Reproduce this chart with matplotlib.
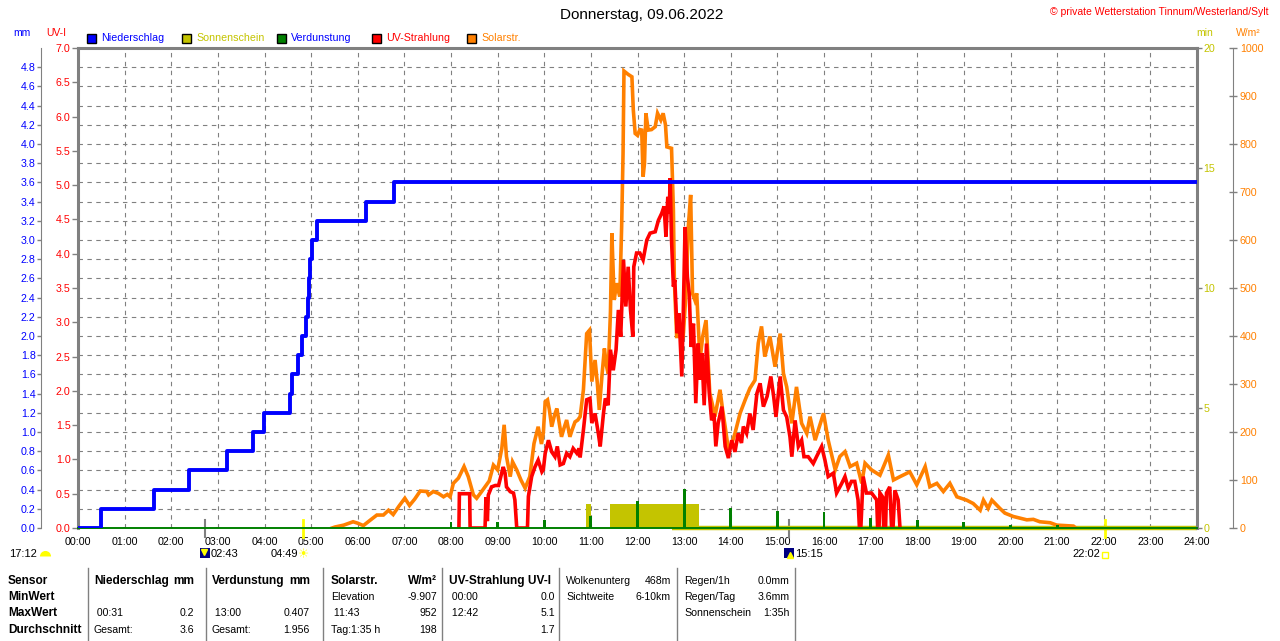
import numpy as np
import matplotlib
matplotlib.use('Agg')
import matplotlib.pyplot as plt
from matplotlib.patches import Rectangle
from matplotlib.lines import Line2D
from matplotlib.transforms import blended_transform_factory

plt.rcParams['font.family'] = ['Liberation Sans', 'DejaVu Sans']

# ---- data (times in decimal hours) ----
# Niederschlag, cumulative mm
rain_t = [0, 0.50, 1.62, 2.37, 3.19, 3.75, 3.98, 4.55, 4.60, 4.71, 4.80, 4.88, 4.94,
          4.96, 4.98, 5.01, 5.12, 6.18, 6.78, 24]
rain_mm = [0, 0.2, 0.4, 0.6, 0.8, 1.0, 1.2, 1.4, 1.6, 1.8, 2.0, 2.2, 2.4,
           2.6, 2.8, 3.0, 3.2, 3.4, 3.6, 3.6]

# Verdunstung, mm per hour
evap_h = [1, 2, 3, 5, 7, 8, 9, 10, 11, 12, 13, 14, 15, 16, 17, 18, 19, 20, 21, 23]
evap_mm = [0.01, 0.01, 0.01, 0.01, 0.01, 0.06, 0.06, 0.08, 0.13, 0.285, 0.407, 0.205,
           0.18, 0.163, 0.108, 0.083, 0.066, 0.028, 0.028, 0.01]

# Sonnenschein, min
sun_t = [0, 10.89, 11.00, 11.40, 13.32, 24]
sun_min = [0, 1.0, 0, 1.0, 0, 0]
sun_zero_start = 12.75

# Solarstrahlung, W/m2
sol_t = [5.45, 5.51, 5.70, 5.90, 6.00, 6.12, 6.25, 6.41, 6.55, 6.66, 6.76, 6.88, 7.01, 7.11,
         7.22, 7.34, 7.48, 7.52, 7.62, 7.73, 7.84, 7.92, 7.98, 8.05, 8.16, 8.28, 8.37, 8.48,
         8.55, 8.65, 8.73, 8.82, 8.91, 9.00, 9.09, 9.14, 9.19, 9.27, 9.32, 9.41, 9.50, 9.59,
         9.69, 9.78, 9.87, 9.94, 9.98, 10.02, 10.07, 10.11, 10.16, 10.22, 10.27, 10.32,
         10.37, 10.43, 10.48, 10.55, 10.60, 10.66, 10.72, 10.77, 10.84, 10.91, 10.97, 11.02,
         11.09, 11.14, 11.18, 11.24, 11.29, 11.33, 11.37, 11.42, 11.45, 11.50, 11.55, 11.62,
         11.66, 11.69, 11.71, 11.80, 11.88, 11.91, 11.95, 12.00, 12.05, 12.09, 12.12, 12.15,
         12.18, 12.23, 12.30, 12.38, 12.43, 12.50, 12.55, 12.60, 12.63, 12.73, 12.77, 12.79,
         12.84, 12.98, 13.04, 13.09, 13.14, 13.18, 13.23, 13.27, 13.34, 13.40, 13.47, 13.55,
         13.60, 13.66, 13.77, 13.82, 13.88, 13.95, 14.02, 14.09, 14.20, 14.31, 14.41, 14.52,
         14.59, 14.66, 14.73, 14.84, 14.95, 15.06, 15.13, 15.20, 15.31, 15.41, 15.52, 15.63,
         15.70, 15.81, 15.99, 16.09, 16.24, 16.34, 16.45, 16.56, 16.70, 16.81, 16.88, 17.02,
         17.20, 17.38, 17.49, 17.63, 17.84, 17.99, 18.17, 18.27, 18.42, 18.56, 18.70, 18.85,
         19.06, 19.20, 19.35, 19.42, 19.52, 19.60, 19.77, 19.88, 20.06, 20.35, 20.49, 20.63,
         20.85, 20.99, 21.35, 21.40]
sol_w = [0, 2, 6, 13, 10, 5, 15, 27, 27, 37, 28, 45, 62, 47,
         60, 77, 76, 69, 76, 72, 65, 70, 65, 93, 104, 128, 107, 69,
         62, 75, 86, 98, 131, 121, 166, 215, 149, 107, 138, 121, 100, 83,
         107, 176, 211, 175, 198, 263, 267, 246, 211, 235, 249, 220,
         190, 210, 225, 190, 205, 221, 225, 232, 288, 405, 412, 305,
         350, 300, 246, 320, 374, 340, 322, 450, 614, 475, 510, 482,
         628, 780, 952, 945, 940, 871, 822, 818, 830, 829, 732, 760,
         864, 829, 830, 836, 864, 850, 864, 840, 794, 791, 662, 517,
         399, 399, 489, 628, 694, 489, 475, 489, 350, 400, 433, 281,
         260, 232, 288, 250, 211, 163, 175, 197, 239, 267, 291, 308,
         385, 420, 357, 399, 336, 405, 322, 294, 218, 294, 218, 197,
         232, 183, 239, 183, 121, 149, 159, 128, 135, 93, 135, 121,
         110, 152, 100, 107, 117, 90, 128, 86, 93, 76, 93, 65,
         58, 51, 37, 58, 41, 58, 41, 31, 24, 17, 18, 13,
         11, 6, 4, 0]

# UV-Strahlung, UV-I
uv_t = [8.17, 8.18, 8.40, 8.41, 8.73, 8.75, 8.78, 8.80, 8.87, 8.95, 9.02, 9.05, 9.12, 9.16,
        9.19, 9.27, 9.34, 9.37, 9.41, 9.64, 9.66, 9.73, 9.80, 9.87, 9.95, 9.98, 10.02, 10.09,
        10.16, 10.23, 10.28, 10.34, 10.41, 10.48, 10.55, 10.62, 10.70, 10.75, 10.77, 10.84,
        10.91, 10.98, 11.02, 11.09, 11.16, 11.20, 11.27, 11.31, 11.37, 11.42, 11.48, 11.54,
        11.59, 11.64, 11.70, 11.75, 11.80, 11.85, 11.90, 11.92, 11.98, 12.05, 12.12, 12.20,
        12.27, 12.38, 12.45, 12.52, 12.57, 12.61, 12.65, 12.68, 12.70, 12.73, 12.77, 12.80,
        12.85, 12.89, 12.95, 12.98, 13.02, 13.07, 13.11, 13.15, 13.20, 13.25, 13.30, 13.34,
        13.38, 13.43, 13.48, 13.54, 13.59, 13.64, 13.68, 13.73, 13.81, 13.88, 13.95, 14.02,
        14.09, 14.16, 14.23, 14.27, 14.34, 14.41, 14.48, 14.56, 14.63, 14.70, 14.78, 14.86,
        14.92, 14.97, 15.06, 15.13, 15.20, 15.27, 15.31, 15.38, 15.45, 15.52, 15.57, 15.66,
        15.77, 15.84, 15.95, 16.02, 16.09, 16.20, 16.27, 16.38, 16.45, 16.52, 16.59, 16.66,
        16.73, 16.76, 16.79, 16.84, 16.91, 17.02, 17.13, 17.15, 17.18, 17.20, 17.26, 17.28,
        17.32, 17.34, 17.41, 17.45, 17.48, 17.52, 17.59, 17.63]
uv_i = [0, 0.50, 0.50, 0, 0, 0.45, 0.10, 0.48, 0.60, 0.62, 0.62, 0.70, 0.89, 0.80,
        0.60, 0.53, 0.51, 0.41, 0, 0, 0.46, 0.75, 0.89, 0.99, 0.82, 0.85, 1.09, 1.28,
        1.11, 1.04, 1.19, 0.92, 0.94, 1.09, 1.04, 1.16, 1.09, 1.16, 1.03, 1.43,
        1.87, 1.89, 1.53, 1.67, 1.38, 1.19, 1.67, 1.89, 1.79, 2.60, 2.30, 2.60,
        3.18, 2.79, 3.91, 3.23, 3.81, 3.18, 2.79, 3.81, 4.01, 4.01, 3.91, 4.20,
        4.30, 4.32, 4.49, 4.59, 4.69, 4.25, 4.83, 4.59, 5.10, 4.20, 3.52, 3.62,
        2.84, 3.13, 2.21, 3.08, 4.39, 3.66, 3.42, 2.64, 2.98, 1.82, 2.69, 2.16,
        2.55, 1.79, 2.69, 1.96, 1.57, 1.67, 1.19, 1.53, 1.77, 1.19, 1.02, 1.28,
        1.11, 1.38, 1.24, 1.48, 1.38, 1.67, 1.43, 1.96, 2.11, 1.77, 1.92, 2.21,
        1.92, 1.62, 2.21, 1.72, 1.62, 1.33, 1.04, 1.57, 1.19, 1.28, 1.04, 1.04,
        0.94, 1.04, 1.19, 0.99, 0.75, 0.80, 0.51, 0.65, 0.75, 0.58, 0.68, 0.68,
        0.41, 0, 0, 0.75, 0.51, 0.51, 0.41, 0, 0, 0.51, 0.45, 0,
        0, 0.51, 0.60, 0, 0, 0.55, 0.41, 0]

hour_labels = ['%02d:00' % h for h in range(25)]

# astronomical events
moon_rise, sun_rise, moon_set, sun_set, day_len = 2.717, 4.817, 15.25, 22.033, '17:12'

# statistics table
table_cols = [
    # (x_left, x_right, [(left text, right text, bold), ...] per row)
    (8, None, [('Sensor', '', True), ('MinWert', '', True), ('MaxWert', '', True),
               ('Durchschnitt', '', True)]),
    (94, 194, [('Niederschlag', 'mm', True), ('', '', False), (' 00:31', '0.2', False),
               ('Gesamt:', '3.6', False)]),
    (212, 310, [('Verdunstung', 'mm', True), ('', '', False), (' 13:00', '0.407', False),
                ('Gesamt:', '1.956', False)]),
    (331, 437, [('Solarstr.', 'W/m²', True), ('Elevation', '-9.907', False),
                (' 11:43', '952', False), ('Tag:1:35 h', '198', False)]),
    (449, 555, [('UV-Strahlung UV-I', '', True), (' 00:00', '0.0', False),
                (' 12:42', '5.1', False), ('', '1.7', False)]),
    (566, 671, [('Wolkenunterg', '468m', False), ('Sichtweite', '6-10km', False),
                ('', '', False), ('', '', False)]),
    (684, 790, [('Regen/1h', '0.0mm', False), ('Regen/Tag', '3.6mm', False),
                ('Sonnenschein', '1:35h', False), ('', '', False)]),
]
table_sep_x = [88, 206, 323, 442, 559, 677, 795]
table_rows_y = [581, 597, 613, 630]

BLUE, RED, ORANGE, GREEN, OLIVE, GRAY = '#0000ff', '#ff0000', '#ff8000', '#008000', '#c4c400', '#808080'

W, H = 1280, 641
PT = 72 / 100  # points per pixel at dpi 100
fig = plt.figure(figsize=(W / 100, H / 100), dpi=100)
fig.patch.set_facecolor('white')


def fx(px):
    return px / W


def fy(py):
    return 1 - py / H


ax = fig.add_axes([fx(78), fy(528), fx(1197) - fx(78), fy(48) - fy(528)])
ax_min = ax.twinx()
ax_w = ax.twinx()
ax_uv = ax.twinx()
ax_top = ax.twinx()

for a in (ax, ax_min, ax_w, ax_uv, ax_top):
    for s in a.spines.values():
        s.set_visible(False)

# mm axis (with grid)
ax.set_xlim(0, 24)
ax.set_ylim(0, 5)
ax.set_xticks(range(25))
ax.set_xticklabels(hour_labels)
ax.tick_params(axis='x', length=0, pad=6.5, labelsize=7.7, labelcolor='black')
mm_ticks = np.round(np.arange(0, 4.81, 0.2), 1)
ax.set_yticks(mm_ticks)
ax.set_yticklabels(['%.1f' % v for v in mm_ticks])
ax.tick_params(axis='y', colors=GRAY, labelcolor=BLUE, length=4 * PT, width=1,
               labelsize=7.7, pad=1)
ax.spines['left'].set_visible(True)
ax.spines['left'].set_position(('outward', 37 * PT))
ax.spines['left'].set_color(GRAY)
ax.spines['top'].set_visible(True)
ax.spines['top'].set_color(GRAY)
ax.spines['top'].set_linewidth(2.2)
ax.grid(True, ls=(0, (4, 4)), color=GRAY, lw=0.8)

# UV axis on the left
ax_uv.yaxis.tick_left()
ax_uv.set_ylim(0, 7)
uv_ticks = np.arange(0, 7.01, 0.5)
ax_uv.set_yticks(uv_ticks)
ax_uv.set_yticklabels(['%.1f' % v for v in uv_ticks])
ax_uv.tick_params(axis='y', colors=GRAY, labelcolor=RED, length=6 * PT, width=1,
                  labelsize=7.7, pad=1)
ax_uv.spines['left'].set_visible(True)
ax_uv.spines['left'].set_color(GRAY)
ax_uv.spines['left'].set_linewidth(2.2)

# sunshine minutes on the right
ax_min.set_ylim(0, 20)
ax_min.set_yticks([0, 5, 10, 15, 20])
ax_min.tick_params(axis='y', colors=GRAY, labelcolor=OLIVE, length=5 * PT, width=1,
                   labelsize=7.7, pad=1)
ax_min.spines['right'].set_visible(True)
ax_min.spines['right'].set_color(GRAY)
ax_min.spines['right'].set_linewidth(2.2)

# solar W/m2 on the far right
ax_w.set_ylim(0, 1000)
ax_w.set_yticks(range(0, 1001, 100))
ax_w.tick_params(axis='y', colors=GRAY, labelcolor=ORANGE, direction='inout', length=8 * PT,
                 width=1, labelsize=7.7, pad=2)
ax_w.spines['right'].set_visible(True)
ax_w.spines['right'].set_position(('outward', 36 * PT))
ax_w.spines['right'].set_color(GRAY)

ax_top.set_ylim(0, 5)
ax_top.set_yticks([])

# ---- series ----
ax_min.fill_between(sun_t, sun_min, step='post', color=OLIVE, lw=0)
ax_min.hlines(0, sun_zero_start, 24, color=OLIVE, lw=3.2, clip_on=False)
ax_w.plot(sol_t, sol_w, color=ORANGE, lw=2.6, solid_joinstyle='miter')
ax_uv.plot(uv_t, uv_i, color=RED, lw=2.6, solid_joinstyle='miter')
ax_top.axhline(0, color=GREEN, lw=1.4, clip_on=False)
ax_top.bar(evap_h, evap_mm, width=0.06, color=GREEN, lw=0)
ax_top.plot(rain_t, rain_mm, drawstyle='steps-post', color=BLUE, lw=2.8)

# event marks under the time axis
tr = blended_transform_factory(ax.transData, ax.transAxes)
for t, c, lw in [(moon_rise, GRAY, 1.5), (moon_set, GRAY, 1.5), (sun_rise, '#ffff00', 2), (sun_set, '#ffff00', 2)]:
    ax.plot([t, t], [0.016, -0.019], transform=tr, color=c, lw=lw, clip_on=False, zorder=5)

icon_y = fy(554)
fig.text(fx(9), icon_y, day_len, fontsize=8, ha='left', va='center')
fig.add_artist(Line2D([fx(45)], [fy(556)], marker='o', ms=8, fillstyle='top', mfc='#ffff00',
                      mec='none', transform=fig.transFigure))

pos_mr = ax.transData.transform((moon_rise, 0))[0]
fig.add_artist(Rectangle((fx(pos_mr - 5), fy(558)), 10 / W, 10 / H, facecolor='#000080',
                         edgecolor='none', transform=fig.transFigure))
fig.add_artist(Line2D([fx(pos_mr - 1)], [fy(552)], marker='v', ms=4, color='#ffff00',
                      transform=fig.transFigure))
fig.text(fx(pos_mr + 6), icon_y, '02:43', fontsize=8, ha='left', va='center')

pos_sr = ax.transData.transform((sun_rise, 0))[0]
fig.text(fx(pos_sr - 4), icon_y, '04:49', fontsize=8, ha='right', va='center')
fig.text(fx(pos_sr + 1), fy(555), '☀', fontsize=9, color='#ffff00', ha='center', va='center',
         family='DejaVu Sans')

pos_ms = ax.transData.transform((moon_set, 0))[0]
fig.add_artist(Rectangle((fx(pos_ms - 5), fy(558)), 10 / W, 10 / H, facecolor='#000080',
                         edgecolor='none', transform=fig.transFigure))
fig.add_artist(Line2D([fx(pos_ms + 1)], [fy(555)], marker='^', ms=4, color='#ffff00',
                      transform=fig.transFigure))
fig.text(fx(pos_ms + 6), icon_y, '15:15', fontsize=8, ha='left', va='center')

pos_ss = ax.transData.transform((sun_set, 0))[0]
fig.text(fx(pos_ss - 5), icon_y, '22:02', fontsize=8, ha='right', va='center')
fig.add_artist(Line2D([fx(pos_ss)], [fy(555)], marker='s', ms=4, mfc='none', mec='#ffff00',
                      mew=1, transform=fig.transFigure))

# ---- titles, units, legend ----
fig.text(fx(642), fy(15), 'Donnerstag, 09.06.2022', fontsize=11, ha='center', va='center')
fig.text(fx(1268), fy(12), '© private Wetterstation Tinnum/Westerland/Sylt', fontsize=7.5,
         color=RED, ha='right', va='center')
fig.text(fx(22), fy(33), 'mm', fontsize=7.5, color=BLUE, ha='center', va='center')
fig.text(fx(56), fy(33), 'UV-I', fontsize=7.5, color=RED, ha='center', va='center')
fig.text(fx(1205), fy(33), 'min', fontsize=7.5, color=OLIVE, ha='center', va='center')
fig.text(fx(1248), fy(33), 'W/m²', fontsize=7.5, color=ORANGE, ha='center', va='center')

legend = [('Niederschlag', BLUE, BLUE, 87), ('Sonnenschein', OLIVE, OLIVE, 182),
          ('Verdunstung', GREEN, BLUE, 277), ('UV-Strahlung', RED, RED, 372),
          ('Solarstr.', ORANGE, ORANGE, 467)]
for name, box_c, txt_c, x0 in legend:
    fig.add_artist(Rectangle((fx(x0), fy(43)), 9 / W, 9 / H, facecolor=box_c, edgecolor='black',
                             lw=1, transform=fig.transFigure))
    fig.text(fx(x0 + 14), fy(38), name, fontsize=7.7, color=txt_c, ha='left', va='center')

# ---- statistics table ----
for xs in table_sep_x:
    fig.add_artist(Line2D([fx(xs), fx(xs)], [fy(568), fy(641)], color=GRAY, lw=1,
                          transform=fig.transFigure))
for x_left, x_right, rows in table_cols:
    for (ltxt, rtxt, bold), yrow in zip(rows, table_rows_y):
        w = 'bold' if bold else 'normal'
        fs = 8.6 if bold else 7.6
        if ltxt:
            fig.text(fx(x_left), fy(yrow), ltxt, fontsize=fs, fontweight=w, ha='left', va='center')
        if rtxt:
            fig.text(fx(x_right), fy(yrow), rtxt, fontsize=fs, fontweight=w, ha='right', va='center')

fig.savefig('out.png', dpi=100, facecolor='white')
